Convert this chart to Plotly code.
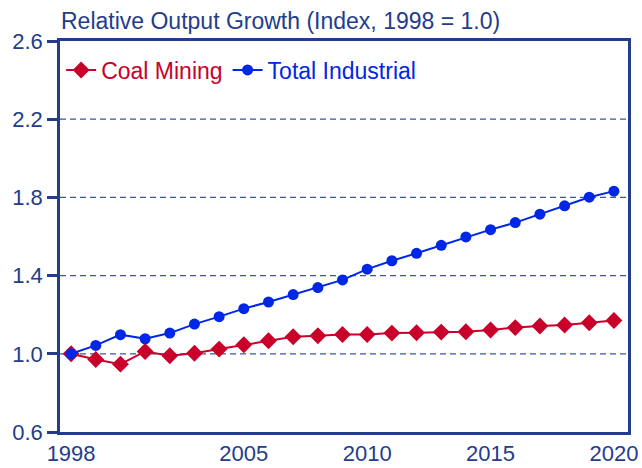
import plotly.graph_objects as go

years = list(range(1998, 2021))

coal_mining = [1.000, 0.971, 0.947, 1.012, 0.990, 1.003, 1.024, 1.046, 1.067, 1.087,
               1.092, 1.099, 1.099, 1.106, 1.108, 1.111, 1.113, 1.122, 1.134, 1.142,
               1.147, 1.159, 1.170]

total_industrial = [1.000, 1.043, 1.098, 1.077, 1.106, 1.152, 1.190, 1.231, 1.265, 1.303,
                    1.339, 1.378, 1.433, 1.476, 1.514, 1.555, 1.598, 1.635, 1.671, 1.714,
                    1.757, 1.801, 1.832]

x_tick_vals = [1998, 2005, 2010, 2015, 2020]
y_tick_vals = [0.6, 1.0, 1.4, 1.8, 2.2, 2.6]

NAVY = "#233c8c"
RED = "#c8002a"
BLUE = "#0026e6"

fig = go.Figure()
fig.add_trace(go.Scatter(
    x=years, y=coal_mining, mode="lines+markers",
    name="<span style='color:%s'>Coal Mining</span>" % RED,
    line=dict(color=RED, width=2),
    marker=dict(symbol="diamond", size=13, color=RED),
))
fig.add_trace(go.Scatter(
    x=years, y=total_industrial, mode="lines+markers",
    name="<span style='color:%s'>Total Industrial</span>" % BLUE,
    line=dict(color=BLUE, width=2),
    marker=dict(symbol="circle", size=11, color=BLUE),
))

# dashed gridlines at the interior y ticks
for yv in y_tick_vals[1:-1]:
    fig.add_hline(y=yv, line=dict(color="#3d55a0", width=1.3, dash="6px,4px"),
                  layer="below")

fig.update_layout(
    width=642, height=468,
    margin=dict(l=60, r=14, t=41, b=36, autoexpand=False),
    paper_bgcolor="white", plot_bgcolor="white",
    font=dict(family="Liberation Sans, Arial, sans-serif", color=NAVY, size=22),
    title=dict(text="Relative Output Growth (Index, 1998 = 1.0)",
               x=61 / 642, xanchor="left", y=1 - 21 / 468, yanchor="middle",
               font=dict(size=23, color=NAVY)),
    showlegend=True,
    legend=dict(orientation="h", x=0.002, y=1 - 29 / 391, xanchor="left",
                yanchor="middle", bgcolor="rgba(0,0,0,0)", font=dict(size=23),
                itemwidth=30, tracegroupgap=0),
    xaxis=dict(range=[1997.55, 2020.57], tickvals=x_tick_vals, showgrid=False,
               zeroline=False, showline=True, linecolor=NAVY, linewidth=2.5,
               mirror=True, ticks="", tickfont=dict(size=22, color=NAVY)),
    yaxis=dict(range=[0.6, 2.6], tickvals=y_tick_vals, tickformat=".1f",
               showgrid=False, zeroline=False, showline=True, linecolor=NAVY,
               linewidth=2.5, mirror=True, ticks="outside", ticklen=10,
               tickcolor=NAVY, tickwidth=2.5, tickfont=dict(size=22, color=NAVY)),
)

fig.write_html("out.html", config={"displayModeBar": False},
               post_script="document.body.style.margin='0';")
